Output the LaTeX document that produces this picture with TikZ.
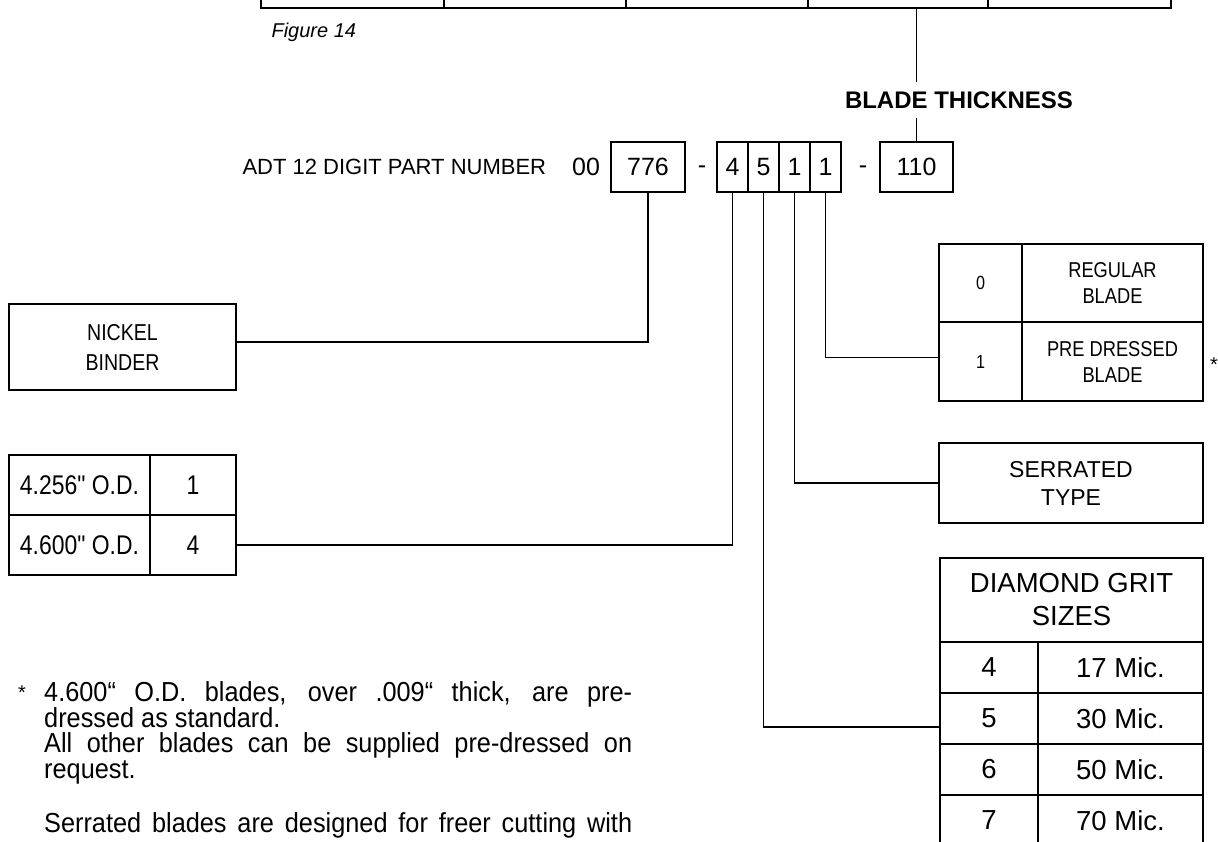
\documentclass[tikz,border=0pt]{standalone}
\usepackage{fontspec}
\setmainfont{Liberation Sans}
\newfontfamily\narrowfont{Liberation Sans}[FakeStretch=0.85]
\newfontfamily\notefont{Liberation Sans}[FakeStretch=0.92]
\usetikzlibrary{positioning}
\newcommand{\fsz}[2]{\fontsize{#1}{#2}\selectfont}

\begin{document}
\begin{tikzpicture}[
    x=1pt, y=-1pt,
    box/.style={draw, line width=1.3pt, inner sep=0pt, outer sep=0pt, align=center},
    digit/.style={box, minimum width=31pt, minimum height=50pt, font=\fsz{25}{30}},
    odcell/.style={box, minimum height=60pt, font=\narrowfont\fsz{27}{32}},
    drcell/.style={box, font=\narrowfont\fsz{21.5}{26}},
    gcell/.style={box, minimum height=51pt, font=\fsz{27.5}{33}},
    link/.style={line width=1.3pt}
]
    \useasboundingbox (0,0) rectangle (1218,842);

    % Top table (only its bottom edge shows)
    \foreach \xa/\xb [count=\i] in {261/444, 444/626, 626/808, 808/988, 988/1171}
        \node[box, anchor=south west, minimum width={(\xb-\xa)*1pt}, minimum height=60pt] (top\i) at (\xa,8) {};
    \node[anchor=base west, font=\itshape\fsz{20}{24}] (fig) at (268,38) {Figure 14};
    \node[font=\bfseries\fsz{24}{28}, inner sep=9pt] (thick) at (959,100) {BLADE THICKNESS};

    % Part number
    \node[anchor=west, font=\fsz{22}{26}] (adt) at (239,167) {ADT 12 DIGIT PART NUMBER};
    \node[font=\fsz{25}{30}] (zero) at (586,167) {00};
    \node[box, minimum width=74pt, minimum height=50pt, font=\fsz{25}{30}] (b776) at (648,167) {776};
    \node[anchor=base, font=\fsz{25}{30}] (dashA) at (702,174) {-};
    \node[digit, anchor=west] (dOD) at (717,167) {4};
    \node[digit, right=0pt of dOD] (dGrit) {5};
    \node[digit, right=0pt of dGrit] (dType) {1};
    \node[digit, right=0pt of dType] (dDress) {1};
    \node[anchor=base, font=\fsz{25}{30}] (dashB) at (863,174) {-};
    \node[box, minimum width=73pt, minimum height=50pt, font=\fsz{25}{30}] (b110) at (916.5,167) {110};

    % Left boxes
    \node[box, anchor=north west, minimum width=227pt, minimum height=86pt, font=\narrowfont\fsz{23}{30}] (nickel) at (9,304) {NICKEL\\BINDER};
    \node[odcell, anchor=north west, minimum width=141pt] (od1) at (9,455) {4.256" O.D.};
    \node[odcell, right=0pt of od1, minimum width=86pt] (od1n) {1};
    \node[odcell, below=0pt of od1, minimum width=141pt] (od4) {4.600" O.D.};
    \node[odcell, right=0pt of od4, minimum width=86pt] (od4n) {4};

    % Right boxes
    \node[drcell, anchor=north west, minimum width=83pt, minimum height=78pt, font=\narrowfont\fsz{19}{22}] (dr0) at (939,244) {0};
    \node[drcell, right=0pt of dr0, minimum width=181pt, minimum height=78pt] (dr0t) {REGULAR\\BLADE};
    \node[drcell, below=0pt of dr0, minimum width=83pt, minimum height=79pt, font=\narrowfont\fsz{19}{22}] (dr1) {1};
    \node[drcell, right=0pt of dr1, minimum width=181pt, minimum height=79pt] (dr1t) {PRE DRESSED\\BLADE};
    \node[font=\fsz{20}{24}] (star) at (1214,365) {*};
    \node[box, anchor=north west, minimum width=264pt, minimum height=80pt, font=\fsz{23}{28}] (serr) at (939,443) {SERRATED\\TYPE};
    \node[gcell, anchor=north west, minimum width=263pt, minimum height=84pt] (grit) at (940,558) {DIAMOND GRIT\\SIZES};
    \foreach \n/\m [count=\i] in {4/17, 5/30, 6/50, 7/70} {
        \node[gcell, anchor=north west, minimum width=98pt] (g\n) at (940,{642+51*(\i-1)}) {\n};
        \node[gcell, right=0pt of g\n, minimum width=165pt] (gm\n) {\m\ Mic.};
    }

    % Footnote
    \node[anchor=base west, inner sep=0pt, font=\fsz{20}{24}] (ast) at (18,699) {*};
    \node[anchor=north west, inner sep=0pt, align=left, font=\notefont\fsz{27.5}{25.9}] (note) at (44,681)
        {\makebox[588pt][s]{4.600“ O.D. blades, over .009“ thick, are pre-}\\
         dressed as standard.\\
         \makebox[588pt][s]{All other blades can be supplied pre-dressed on}\\
         request.\\[28pt]
         \makebox[588pt][s]{Serrated blades are designed for freer cutting with}};

    % Connectors
    \draw[link] (b110.north) -- (b110.north |- thick.south);
    \draw[link] (b110.north |- thick.north) -- (b110.north |- top4.south);
    \draw[link] (b776.south) |- ([yshift=5pt]nickel.east);
    \draw[link] (dOD.south) |- (od4n.east);
    \draw[link] (dGrit.south) |- ([yshift=-8.5pt]g5.west);
    \draw[link] (dType.south) |- (serr.west);
    \draw[link] (dDress.south) |- ([yshift=4pt]dr1.west);
\end{tikzpicture}
\end{document}
